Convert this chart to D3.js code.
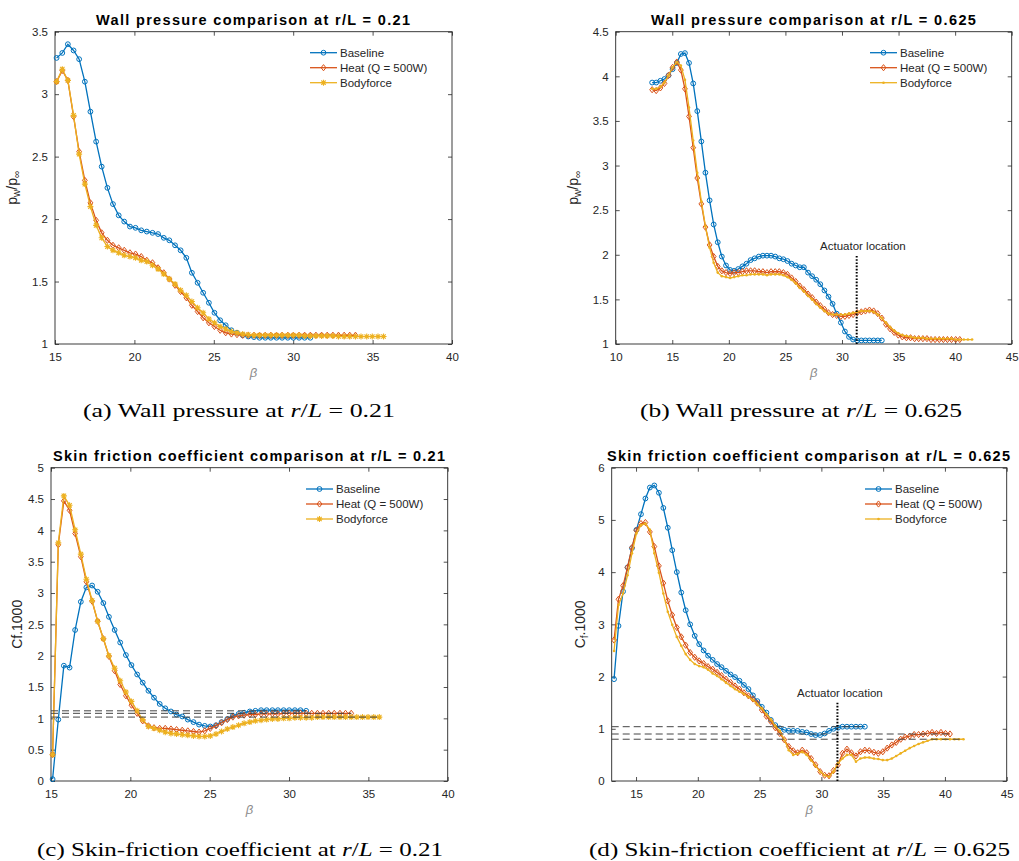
<!DOCTYPE html>
<html><head><meta charset="utf-8">
<script src="https://cdn.jsdelivr.net/npm/d3@7"></script>
<style>body{margin:0;background:#fff}svg{display:block}</style>
</head><body>
<svg id="c" width="1019" height="861"></svg>
<script>
// ---------- DATA ----------
const seriesNames = ["Baseline", "Heat (Q = 500W)", "Bodyforce"];
// beta grid, r/L = 0.21
const betaA = [15.10,15.46,15.81,16.17,16.52,16.88,17.23,17.59,17.94,18.30,18.65,19.01,19.36,19.72,20.07,20.43,20.78,21.14,21.49,21.85,22.20,22.56,22.91,23.27,23.62,23.98,24.33,24.69,25.04,25.40,25.75,26.11,26.46,26.82,27.17,27.53,27.88,28.24,28.59,28.95,29.30,29.66,30.01,30.37,30.72,31.08,31.43,31.79,32.14,32.50,32.85,33.21,33.56,33.92,34.27,34.63,34.98,35.34,35.69];
// beta grid, r/L = 0.625
const betaB = [13.22,13.58,13.95,14.31,14.67,15.03,15.40,15.76,16.12,16.48,16.85,17.21,17.57,17.93,18.30,18.66,19.02,19.38,19.75,20.11,20.47,20.83,21.20,21.56,21.92,22.28,22.65,23.01,23.37,23.73,24.10,24.46,24.82,25.18,25.55,25.91,26.27,26.63,27.00,27.36,27.72,28.08,28.45,28.81,29.17,29.53,29.90,30.26,30.62,30.98,31.35,31.71,32.07,32.43,32.80,33.16,33.52,33.88,34.25,34.61,34.97,35.33,35.70,36.06,36.42,36.78,37.15,37.51,37.87,38.23,38.60,38.96,39.32,39.68,40.05,40.41,40.77,41.13,41.50];

// (a) wall pressure p_w/p_inf at r/L = 0.21
const pwA_base = [3.29,3.33,3.40,3.35,3.28,3.10,2.86,2.62,2.42,2.25,2.12,2.03,1.98,1.94,1.93,1.91,1.90,1.89,1.88,1.85,1.83,1.79,1.75,1.69,1.57,1.49,1.41,1.33,1.25,1.19,1.15,1.11,1.09,1.07,1.06,1.055,1.05,1.05,1.05,1.05,1.05,1.05,1.05,1.05,1.05,1.05];
const pwA_heat = [3.10,3.19,3.11,2.82,2.54,2.31,2.13,1.99,1.89,1.83,1.79,1.77,1.75,1.73,1.72,1.70,1.67,1.65,1.61,1.57,1.52,1.47,1.42,1.37,1.31,1.26,1.21,1.17,1.14,1.11,1.09,1.08,1.075,1.07,1.07,1.07,1.07,1.07,1.07,1.07,1.07,1.07,1.07,1.07,1.07,1.07,1.07,1.07,1.07,1.07,1.07,1.07,1.07,1.07];
const pwA_body = [3.10,3.20,3.11,2.83,2.52,2.28,2.10,1.95,1.85,1.78,1.75,1.73,1.71,1.70,1.69,1.67,1.66,1.63,1.60,1.56,1.52,1.48,1.43,1.39,1.34,1.29,1.25,1.20,1.17,1.14,1.12,1.10,1.09,1.08,1.075,1.07,1.07,1.07,1.07,1.07,1.07,1.07,1.07,1.07,1.065,1.065,1.065,1.065,1.065,1.065,1.06,1.06,1.06,1.06,1.06,1.06,1.06,1.06,1.06];

// (b) wall pressure at r/L = 0.625
const pwB_base = [3.93,3.93,3.95,3.97,4.01,4.08,4.15,4.25,4.26,4.15,3.92,3.61,3.27,2.92,2.61,2.34,2.14,1.98,1.88,1.83,1.82,1.84,1.87,1.90,1.94,1.96,1.98,1.99,1.99,1.99,1.98,1.96,1.95,1.93,1.90,1.88,1.86,1.86,1.80,1.76,1.72,1.67,1.60,1.53,1.45,1.34,1.24,1.14,1.08,1.05,1.04,1.04,1.04,1.04,1.04,1.04,1.04];
const pwB_heat = [3.85,3.84,3.87,3.92,4.01,4.10,4.16,4.07,3.86,3.55,3.20,2.86,2.57,2.31,2.11,1.98,1.87,1.82,1.80,1.79,1.80,1.80,1.81,1.82,1.82,1.82,1.81,1.81,1.80,1.81,1.81,1.81,1.80,1.78,1.74,1.70,1.65,1.61,1.56,1.52,1.47,1.43,1.39,1.35,1.33,1.32,1.31,1.31,1.32,1.33,1.35,1.36,1.37,1.38,1.37,1.34,1.29,1.22,1.17,1.13,1.10,1.08,1.07,1.07,1.06,1.06,1.06,1.06,1.05,1.05,1.05,1.05,1.05,1.05,1.05,1.05];
const pwB_body = [3.86,3.86,3.88,3.93,4.01,4.10,4.16,4.12,3.96,3.65,3.28,2.92,2.60,2.32,2.08,1.91,1.80,1.76,1.75,1.74,1.75,1.76,1.77,1.77,1.78,1.78,1.78,1.78,1.77,1.78,1.78,1.78,1.77,1.75,1.72,1.68,1.63,1.59,1.54,1.50,1.45,1.41,1.37,1.34,1.33,1.33,1.33,1.33,1.34,1.35,1.36,1.37,1.37,1.37,1.36,1.33,1.29,1.24,1.19,1.15,1.12,1.10,1.09,1.08,1.07,1.07,1.07,1.06,1.06,1.06,1.06,1.06,1.06,1.06,1.05,1.05,1.05,1.05,1.05];

// (c) skin friction Cf*1000 at r/L = 0.21
const cfA_base = [0.03,0.98,1.84,1.81,2.41,2.86,3.09,3.12,3.02,2.84,2.62,2.41,2.21,2.01,1.85,1.70,1.57,1.44,1.33,1.23,1.16,1.11,1.06,1.03,0.98,0.94,0.90,0.88,0.87,0.89,0.94,0.99,1.04,1.07,1.09,1.11,1.12,1.13,1.13,1.13,1.13,1.13,1.13,1.13,1.13,1.12];
const cfA_heat = [0.42,3.77,4.47,4.32,3.95,3.58,3.18,2.87,2.55,2.27,1.99,1.76,1.54,1.36,1.21,1.08,0.96,0.88,0.85,0.84,0.84,0.83,0.82,0.81,0.80,0.79,0.78,0.80,0.84,0.88,0.93,0.98,1.02,1.04,1.05,1.06,1.06,1.07,1.07,1.07,1.07,1.08,1.08,1.08,1.08,1.08,1.08,1.08,1.08,1.08,1.08,1.08,1.08,1.08];
const cfA_body = [0.42,3.80,4.55,4.40,4.01,3.62,3.22,2.88,2.55,2.27,2.00,1.80,1.60,1.42,1.27,1.12,0.98,0.87,0.84,0.81,0.78,0.76,0.75,0.74,0.73,0.72,0.71,0.71,0.72,0.75,0.79,0.83,0.86,0.89,0.92,0.94,0.96,0.97,0.98,0.99,0.99,1.00,1.00,1.01,1.01,1.01,1.01,1.02,1.02,1.02,1.02,1.02,1.02,1.02,1.02,1.02,1.02,1.02,1.02];

// (d) skin friction Cf*1000 at r/L = 0.625
const cfB_base = [1.95,2.97,3.63,4.09,4.46,4.81,5.11,5.41,5.62,5.66,5.52,5.23,4.85,4.42,4.00,3.61,3.27,3.00,2.78,2.62,2.50,2.40,2.32,2.24,2.18,2.11,2.04,1.99,1.92,1.84,1.76,1.64,1.53,1.42,1.31,1.17,1.07,1.01,0.98,0.96,0.96,0.96,0.94,0.93,0.90,0.88,0.88,0.91,0.96,1.00,1.02,1.04,1.04,1.04,1.04,1.04,1.04];
const cfB_heat = [2.70,3.48,3.74,4.09,4.47,4.80,4.93,4.95,4.77,4.49,4.12,3.79,3.45,3.18,2.94,2.76,2.60,2.46,2.37,2.30,2.25,2.19,2.14,2.08,2.02,1.95,1.89,1.82,1.76,1.69,1.63,1.57,1.49,1.36,1.24,1.14,1.02,0.91,0.79,0.66,0.58,0.54,0.59,0.54,0.43,0.31,0.18,0.11,0.10,0.20,0.31,0.53,0.61,0.54,0.48,0.56,0.59,0.58,0.55,0.53,0.56,0.63,0.69,0.74,0.80,0.84,0.86,0.89,0.89,0.90,0.91,0.93,0.91,0.93,0.91,0.90];
const cfB_body = [2.49,3.37,3.59,3.94,4.36,4.74,4.90,4.93,4.81,4.36,3.99,3.59,3.24,2.99,2.76,2.59,2.43,2.32,2.24,2.20,2.18,2.13,2.06,2.01,1.95,1.88,1.82,1.76,1.71,1.67,1.61,1.55,1.47,1.39,1.28,1.18,1.05,0.96,0.79,0.59,0.50,0.52,0.56,0.50,0.40,0.29,0.18,0.11,0.08,0.18,0.34,0.43,0.50,0.50,0.37,0.43,0.45,0.45,0.43,0.42,0.40,0.40,0.43,0.48,0.53,0.58,0.63,0.67,0.71,0.74,0.77,0.80,0.80,0.80,0.80,0.80,0.80,0.80,0.80];

// axis ticks
const xTicksA = [15,20,25,30,35,40];
const xTicksB = [10,15,20,25,30,35,40,45];
const xTicksD = [15,20,25,30,35,40,45];
const yTicksA = [1,1.5,2,2.5,3,3.5];
const yTicksB = [1,1.5,2,2.5,3,3.5,4,4.5];
const yTicksC = [0,0.5,1,1.5,2,2.5,3,3.5,4,4.5,5];
const yTicksD = [0,1,2,3,4,5,6];
const actuatorBeta = 31.3;

// ---------- DRAWING ----------
const COL = ["#0072BD", "#D95319", "#EDB120"];
const AX = "#262626";
const FONT = "'Liberation Sans', Arial, Helvetica, sans-serif";
const SERIF = "'Liberation Serif', 'DejaVu Serif', serif";
const svg = d3.select("#c");

function drawMarker(g, type, color, cx, cy) {
  if (type === "circle") {
    g.append("circle").attr("cx", cx).attr("cy", cy).attr("r", 2.4)
      .attr("fill", "none").attr("stroke", color).attr("stroke-width", 1);
  } else if (type === "diamond") {
    g.append("path").attr("transform", `translate(${cx},${cy})`)
      .attr("d", "M0,-3.1L2.4,0L0,3.1L-2.4,0Z")
      .attr("fill", "none").attr("stroke", color).attr("stroke-width", 1);
  } else if (type === "star") {
    g.append("path").attr("transform", `translate(${cx},${cy})`)
      .attr("d", "M-3,0H3M0,-3V3M-2.2,-2.2L2.2,2.2M-2.2,2.2L2.2,-2.2")
      .attr("fill", "none").attr("stroke", color).attr("stroke-width", 1.1);
  } else if (type === "dot") {
    g.append("circle").attr("cx", cx).attr("cy", cy).attr("r", 1.3)
      .attr("fill", color);
  }
}

function panel(p) {
  const [x0, y0, x1, y1] = p.box;
  const x = d3.scaleLinear().domain(p.xd).range([x0, x1]);
  const y = d3.scaleLinear().domain(p.yd).range([y1, y0]);
  const g = svg.append("g");

  const fmt = d => String(d);
  const styleAxis = sel => {
    sel.select(".domain").remove();
    sel.selectAll(".tick line").attr("stroke", AX).attr("stroke-width", 0.8);
    sel.selectAll(".tick text").attr("fill", AX).style("font-family", FONT).style("font-size", "11.5px");
  };
  g.append("g").attr("transform", `translate(0,${y1})`)
    .call(d3.axisBottom(x).tickValues(p.xt).tickFormat(fmt).tickSizeInner(-4).tickSizeOuter(0).tickPadding(9))
    .call(styleAxis);
  g.append("g").attr("transform", `translate(0,${y0})`)
    .call(d3.axisTop(x).tickValues(p.xt).tickFormat("").tickSizeInner(-4).tickSizeOuter(0))
    .call(styleAxis);
  g.append("g").attr("transform", `translate(${x0},0)`)
    .call(d3.axisLeft(y).tickValues(p.yt).tickFormat(fmt).tickSizeInner(-4).tickSizeOuter(0).tickPadding(7))
    .call(styleAxis);
  g.append("g").attr("transform", `translate(${x1},0)`)
    .call(d3.axisRight(y).tickValues(p.yt).tickFormat("").tickSizeInner(-4).tickSizeOuter(0))
    .call(styleAxis);
  g.append("rect").attr("x", x0).attr("y", y0).attr("width", x1 - x0).attr("height", y1 - y0)
    .attr("fill", "none").attr("stroke", AX).attr("stroke-width", 0.9);

  const markers = ["circle", "diamond", p.bodyMarker];
  const line = d3.line().x(d => x(d[0])).y(d => y(d[1]));
  p.series.forEach((vals, si) => {
    const pts = vals.map((v, i) => [p.beta[i], v]);
    g.append("path").attr("d", line(pts)).attr("fill", "none")
      .attr("stroke", COL[si]).attr("stroke-width", 1.3);
    const mg = g.append("g");
    pts.forEach(d => drawMarker(mg, markers[si], COL[si], x(d[0]), y(d[1])));
  });

  if (p.dashed) {
    p.series.forEach(vals => {
      const endB = p.beta[vals.length - 1];
      const v = vals[vals.length - 1];
      g.append("line").attr("x1", x(p.xd[0])).attr("x2", x(endB))
        .attr("y1", y(v)).attr("y2", y(v))
        .attr("stroke", "#444").attr("stroke-width", 1).attr("stroke-dasharray", "7,4");
    });
  }

  if (p.act) {
    g.append("line").attr("x1", x(actuatorBeta)).attr("x2", x(actuatorBeta))
      .attr("y1", y(p.yd[0])).attr("y2", y(p.act.top))
      .attr("stroke", "#000").attr("stroke-width", 2).attr("stroke-dasharray", "1.6,1.6");
    g.append("text").attr("x", x(p.act.tx)).attr("y", y(p.act.ty))
      .attr("text-anchor", "middle").attr("fill", AX)
      .style("font-family", FONT).style("font-size", "11.5px").text("Actuator location");
  }

  const [lx, ly] = p.legend;
  seriesNames.forEach((name, si) => {
    const yy = ly + si * 15;
    g.append("line").attr("x1", lx).attr("x2", lx + 27).attr("y1", yy).attr("y2", yy)
      .attr("stroke", COL[si]).attr("stroke-width", 1.3);
    drawMarker(g, markers[si], COL[si], lx + 13.5, yy);
    g.append("text").attr("x", lx + 30).attr("y", yy + 4).attr("fill", AX)
      .style("font-family", FONT).style("font-size", "11.5px").text(name);
  });

  g.append("text").attr("x", p.title.cx).attr("y", p.title.y).attr("text-anchor", "middle")
    .attr("textLength", p.title.w).attr("lengthAdjust", "spacing")
    .attr("fill", "#000").style("font-family", FONT).style("font-weight", "bold").style("font-size", "14.5px")
    .text(p.title.text);

  g.append("text").attr("x", (x0 + x1) / 2).attr("y", y1 + 33).attr("text-anchor", "middle")
    .attr("fill", "#8c8c8c").style("font-family", FONT).style("font-style", "italic").style("font-size", "13px")
    .text("β");

  const yl = g.append("text").attr("transform", `translate(${p.ylab.x},${(y0 + y1) / 2}) rotate(-90)`)
    .attr("text-anchor", "middle").attr("fill", AX).style("font-family", FONT).style("font-size", "14px");
  p.ylab.parts.forEach(([t, sub]) => {
    const ts = yl.append("tspan").text(t);
    if (sub === 1) ts.attr("dy", 3).style("font-size", "10px");
    if (sub === -1) ts.attr("dy", -3);
  });

  const cap = svg.append("text").attr("x", p.cap.cx).attr("y", p.cap.y).attr("text-anchor", "middle")
    .attr("textLength", p.cap.w).attr("lengthAdjust", "spacingAndGlyphs")
    .attr("fill", "#000").style("font-family", SERIF).style("font-size", "18px");
  p.cap.parts.forEach(([t, it]) => {
    const ts = cap.append("tspan").text(t);
    if (it) ts.style("font-style", "italic");
  });
}

const capParts = (lab, txt, val) => [[`(${lab}) ${txt} at `, 0], ["r", 1], ["/", 0], ["L", 1], [` = ${val}`, 0]];

panel({
  box: [55, 31.7, 452, 344], xd: [15, 40], yd: [1, 3.5], xt: xTicksA, yt: yTicksA,
  beta: betaA, series: [pwA_base, pwA_heat, pwA_body], bodyMarker: "star",
  legend: [310, 52.7],
  title: {text: "Wall pressure comparison at r/L = 0.21", cx: 253, y: 25, w: 314},
  ylab: {x: 17, parts: [["p", 0], ["w", 1], ["/p", -1], ["∞", 1]]},
  cap: {cx: 239, y: 417, w: 312, parts: capParts("a", "Wall pressure", "0.21")}
});
panel({
  box: [615.7, 31.7, 1011.7, 344], xd: [10, 45], yd: [1, 4.5], xt: xTicksB, yt: yTicksB,
  beta: betaB, series: [pwB_base, pwB_heat, pwB_body], bodyMarker: "dot",
  legend: [870, 52.7],
  act: {top: 2.0, tx: 31.85, ty: 2.05},
  title: {text: "Wall pressure comparison at r/L = 0.625", cx: 813.4, y: 25, w: 325},
  ylab: {x: 578, parts: [["p", 0], ["w", 1], ["/p", -1], ["∞", 1]]},
  cap: {cx: 801, y: 417, w: 322, parts: capParts("b", "Wall pressure", "0.625")}
});
panel({
  box: [51, 467.7, 447.7, 781], xd: [15, 40], yd: [0, 5], xt: xTicksA, yt: yTicksC,
  beta: betaA, series: [cfA_base, cfA_heat, cfA_body], bodyMarker: "star",
  legend: [306, 489], dashed: true,
  title: {text: "Skin friction coefficient comparison at r/L = 0.21", cx: 249, y: 461, w: 392},
  ylab: {x: 21.5, parts: [["Cf.1000", 0]]},
  cap: {cx: 240, y: 856, w: 406, parts: capParts("c", "Skin-friction coefficient", "0.21")}
});
panel({
  box: [611.7, 467.7, 1006.7, 781], xd: [13.03, 45], yd: [0, 6], xt: xTicksD, yt: yTicksD,
  beta: betaB, series: [cfB_base, cfB_heat, cfB_body], bodyMarker: "dot",
  legend: [865, 489], dashed: true,
  act: {top: 1.5, tx: 31.5, ty: 1.61},
  title: {text: "Skin friction coefficient comparison at r/L = 0.625", cx: 808.5, y: 461, w: 403},
  ylab: {x: 585, parts: [["C", 0], ["f", 1], [".1000", -1]]},
  cap: {cx: 799.5, y: 856, w: 421, parts: capParts("d", "Skin-friction coefficient", "0.625")}
});
</script>
</body></html>
